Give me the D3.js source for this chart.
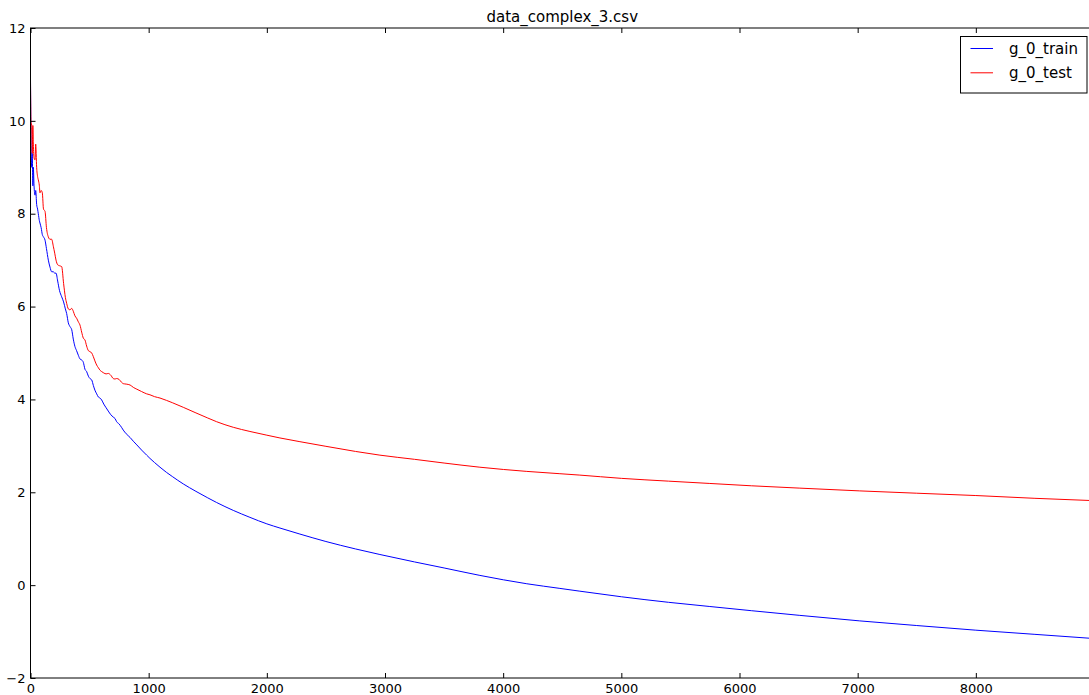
<!DOCTYPE html>
<html>
<head>
<meta charset="utf-8">
<script src="https://cdn.jsdelivr.net/npm/d3@7"></script>
<style>
  html, body { margin: 0; padding: 0; background: #fff; }
  svg { display: block; font-family: "DejaVu Sans", sans-serif; }
</style>
</head>
<body>
<svg id="chart" width="1089" height="695"></svg>
<script>
// Training iterations at which the losses were logged
const iterations = [0, 4, 10, 15, 20, 24, 30, 38, 44, 52, 60, 66, 75, 80, 90, 100, 110, 123, 135, 151,
  165, 179, 193, 205, 216, 230, 245, 264, 280, 295, 306, 320, 334, 349, 362, 376, 390, 405, 419, 433,
  447, 461, 475, 490, 503, 518, 532, 545, 560, 575, 588, 602, 620, 640, 658, 680, 700, 715, 729, 750,
  770, 785, 810, 843, 870, 900, 940, 983, 1011, 1050, 1096, 1150, 1200, 1293, 1400, 1500, 1575, 1716,
  1857, 2000, 2111, 2280, 2500, 2750, 2957, 3250, 3500, 3803, 4200, 4480, 4649, 5000, 5400, 5749,
  6100, 6505, 7018, 7500, 8000, 8500, 9000];

// g_0 loss on the training set
const trainLoss = [10.9, 9.7, 9.0, 9.3, 8.6, 9.0, 8.6, 8.4, 8.5, 8.2, 8.1, 8.0, 7.85, 7.8, 7.7, 7.55, 7.5, 7.43, 7.25, 7.0,
  6.85, 6.75, 6.75, 6.72, 6.72, 6.55, 6.35, 6.21, 6.1, 5.95, 5.85, 5.65, 5.57, 5.5, 5.3, 5.14, 5.05, 4.95, 4.87, 4.85,
  4.8, 4.65, 4.6, 4.5, 4.45, 4.42, 4.3, 4.2, 4.12, 4.05, 4.03, 3.99, 3.9, 3.82, 3.75, 3.67, 3.62, 3.59, 3.52, 3.47,
  3.4, 3.34, 3.26, 3.18, 3.1, 3.02, 2.91, 2.8, 2.73, 2.64, 2.54, 2.43, 2.34, 2.18, 2.02, 1.88, 1.78, 1.61,
  1.46, 1.32, 1.23, 1.1, 0.94, 0.78, 0.66, 0.5, 0.37, 0.21, 0.03, -0.07, -0.13, -0.25, -0.37, -0.46,
  -0.55, -0.65, -0.77, -0.87, -0.97, -1.06, -1.15];

// g_0 loss on the test set
const testLoss = [10.9, 10.0, 9.9, 9.3, 9.9, 9.5, 9.2, 9.16, 9.5, 9.0, 8.8, 8.73, 8.6, 8.45, 8.5, 8.45, 8.1, 8.05, 7.7, 7.5,
  7.45, 7.45, 7.3, 7.15, 7.0, 6.9, 6.88, 6.86, 6.5, 6.2, 6.07, 5.95, 5.93, 5.96, 5.9, 5.8, 5.75, 5.67, 5.6, 5.45,
  5.32, 5.28, 5.15, 5.05, 5.03, 5.0, 4.92, 4.83, 4.74, 4.68, 4.63, 4.6, 4.57, 4.55, 4.56, 4.52, 4.45, 4.44, 4.45, 4.43,
  4.37, 4.34, 4.33, 4.31, 4.26, 4.22, 4.17, 4.12, 4.1, 4.06, 4.03, 3.98, 3.93, 3.83, 3.71, 3.6, 3.52, 3.4,
  3.31, 3.23, 3.17, 3.09, 2.99, 2.88, 2.8, 2.71, 2.63, 2.54, 2.45, 2.4, 2.37, 2.3, 2.24, 2.19,
  2.14, 2.09, 2.03, 1.98, 1.93, 1.87, 1.82];

const seriesNames = ["g_0_train", "g_0_test"];
const seriesColors = ["#0000ff", "#ff0000"];
const xTicks = [0, 1000, 2000, 3000, 4000, 5000, 6000, 7000, 8000];
const yTicks = [-2, 0, 2, 4, 6, 8, 10, 12];
const chartTitle = "data_complex_3.csv";

const svg = d3.select("#chart");
const plotLeft = 30.5, plotTop = 28, plotRight = 1094, plotBottom = 678;

const x = d3.scaleLinear().domain([0, 9000]).range([plotLeft, plotRight]);
const y = d3.scaleLinear().domain([-2, 12]).range([plotBottom, plotTop]);

svg.append("clipPath").attr("id", "plot-clip")
  .append("rect").attr("x", plotLeft).attr("y", plotTop)
  .attr("width", plotRight - plotLeft).attr("height", plotBottom - plotTop);

const series = [trainLoss, testLoss];
const line = d3.line().x((d, i) => x(iterations[i])).y(d => y(d)).curve(d3.curveMonotoneX);

const plot = svg.append("g").attr("clip-path", "url(#plot-clip)");
series.forEach((vals, s) => {
  plot.append("path")
    .datum(vals)
    .attr("d", line)
    .attr("fill", "none")
    .attr("stroke", seriesColors[s])
    .attr("stroke-width", 1)
    .attr("stroke-linejoin", "round");
});

// Axes with inward ticks on all four sides (classic style)
const tickLen = 5;
const bottomAxis = d3.axisBottom(x).tickValues(xTicks).tickSize(-tickLen).tickPadding(6).tickFormat(d3.format("d"));
const topAxis = d3.axisTop(x).tickValues(xTicks).tickSize(-tickLen).tickFormat("");
const leftAxis = d3.axisLeft(y).tickValues(yTicks).tickSize(-tickLen).tickPadding(5)
  .tickFormat(d => d < 0 ? "\u2212" + Math.abs(d) : String(d));
const rightAxis = d3.axisRight(y).tickValues(yTicks).tickSize(-tickLen).tickFormat("");

function styleAxis(g) {
  g.select(".domain").remove();
  g.selectAll(".tick line").attr("stroke", "#000").attr("stroke-width", 1);
  g.selectAll(".tick text").attr("fill", "#000").attr("font-size", 13)
    .attr("font-family", "DejaVu Sans, sans-serif");
}

svg.append("g").attr("transform", `translate(0,${plotBottom})`).call(bottomAxis).call(styleAxis);
svg.append("g").attr("transform", `translate(0,${plotTop})`).call(topAxis).call(styleAxis);
svg.append("g").attr("transform", `translate(${plotLeft},0)`).call(leftAxis).call(styleAxis);
svg.append("g").attr("transform", `translate(${plotRight},0)`).call(rightAxis).call(styleAxis);

// Frame
svg.append("rect")
  .attr("x", plotLeft).attr("y", plotTop)
  .attr("width", plotRight - plotLeft).attr("height", plotBottom - plotTop)
  .attr("fill", "none").attr("stroke", "#000").attr("stroke-width", 1);

// Title
svg.append("text")
  .attr("x", (plotLeft + plotRight) / 2).attr("y", 22)
  .attr("text-anchor", "middle").attr("font-size", 15).attr("fill", "#000")
  .text(chartTitle);

// Legend
const legend = svg.append("g");
legend.append("rect")
  .attr("x", 960.5).attr("y", 36.5).attr("width", 126.5).attr("height", 56.5)
  .attr("fill", "#fff").attr("stroke", "#000").attr("stroke-width", 1);
seriesNames.forEach((name, i) => {
  const ly = 48.5 + i * 24.3;
  legend.append("line")
    .attr("x1", 970.5).attr("x2", 993).attr("y1", ly).attr("y2", ly)
    .attr("stroke", seriesColors[i]).attr("stroke-width", 1);
  legend.append("text")
    .attr("x", 1009).attr("y", ly + 5)
    .attr("font-size", 15).attr("fill", "#000")
    .text(name);
});
</script>
</body>
</html>
